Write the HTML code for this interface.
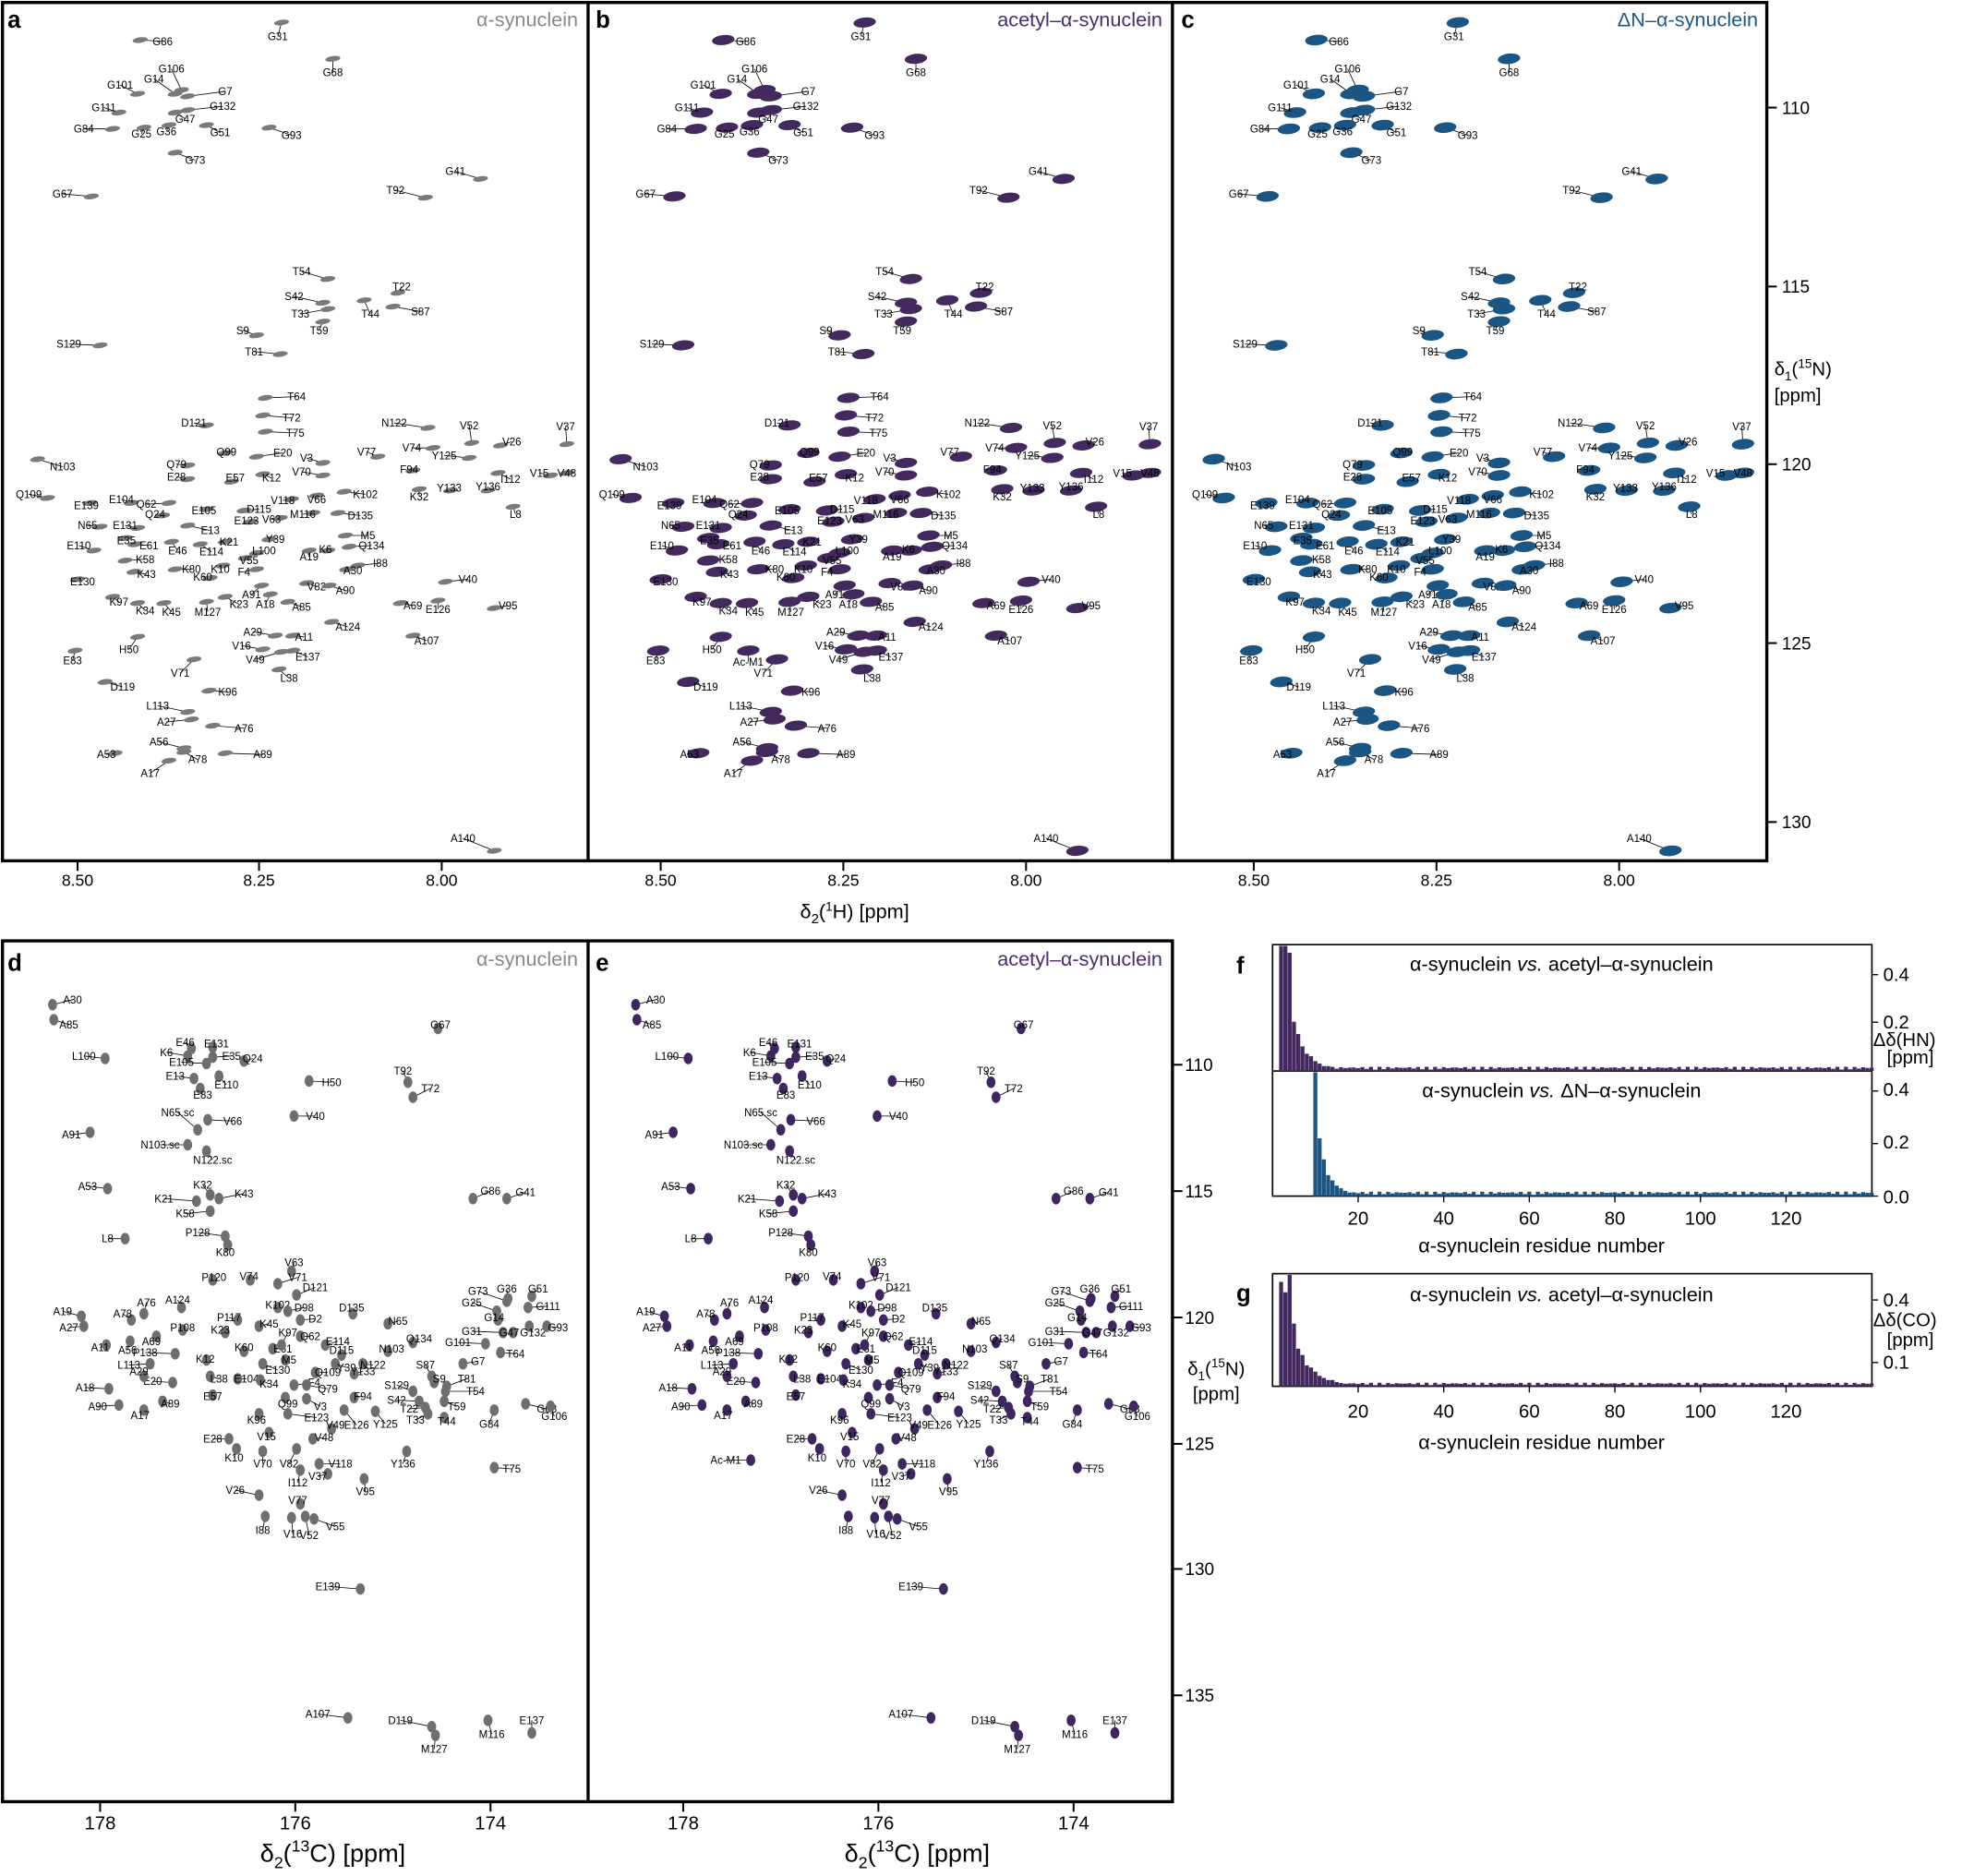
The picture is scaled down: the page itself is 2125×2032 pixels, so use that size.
<!DOCTYPE html>
<html><head><meta charset="utf-8">
<style>
html,body{margin:0;padding:0;background:#fff;}
svg{display:block;font-family:"Liberation Sans",sans-serif;}
</style></head>
<body>
<svg id="s" width="2125" height="2032" viewBox="0 0 1568 1499.4" preserveAspectRatio="none" xmlns="http://www.w3.org/2000/svg">
<rect x="0" y="0" width="1568" height="1500" fill="#fff"/>
<g id="peaks"></g>
<g fill="none" stroke="#000" stroke-width="2.5">
<rect x="2" y="2" width="1410" height="686"/>
<line x1="470" y1="2" x2="470" y2="688"/>
<line x1="937" y1="2" x2="937" y2="688"/>
<rect x="2" y="752" width="935" height="688"/>
<line x1="470" y1="752" x2="470" y2="1440"/>
</g>
<g fill="none" stroke="#000" stroke-width="1.2">
<rect x="1017" y="755" width="479" height="201"/>
<line x1="1017" y1="856" x2="1496" y2="856"/>
<rect x="1017" y="1018" width="479" height="90"/>
</g>
<g id="axes" stroke="#000" stroke-width="1.5"></g>
<g font-size="13" text-anchor="middle" fill="#000">
<text x="62" y="708">8.50</text><text x="207" y="708">8.25</text><text x="353" y="708">8.00</text>
<text x="528" y="708">8.50</text><text x="674" y="708">8.25</text><text x="820" y="708">8.00</text>
<text x="1002" y="708">8.50</text><text x="1148" y="708">8.25</text><text x="1294" y="708">8.00</text>
<text x="80" y="1462" font-size="15">178</text><text x="236" y="1462" font-size="15">176</text><text x="392" y="1462" font-size="15">174</text>
<text x="546" y="1462" font-size="15">178</text><text x="702" y="1462" font-size="15">176</text><text x="858" y="1462" font-size="15">174</text>
</g>
<g font-size="14" text-anchor="start">
<text x="1424" y="91">110</text><text x="1424" y="234">115</text><text x="1424" y="376">120</text><text x="1424" y="519">125</text><text x="1424" y="662">130</text>
<text x="947" y="856">110</text><text x="947" y="957">115</text><text x="947" y="1058">120</text><text x="947" y="1159">125</text><text x="947" y="1259">130</text><text x="947" y="1360">135</text>
</g>
<text x="683" y="734" font-size="16" text-anchor="middle">δ<tspan font-size="11" dy="4">2</tspan><tspan dy="-4">(</tspan><tspan font-size="10" dy="-6">1</tspan><tspan dy="6">H) [ppm]</tspan></text>
<text x="266" y="1488" font-size="20" text-anchor="middle">δ<tspan font-size="13" dy="5">2</tspan><tspan dy="-5">(</tspan><tspan font-size="13" dy="-8">13</tspan><tspan dy="8">C) [ppm]</tspan></text>
<text x="733" y="1488" font-size="20" text-anchor="middle">δ<tspan font-size="13" dy="5">2</tspan><tspan dy="-5">(</tspan><tspan font-size="13" dy="-8">13</tspan><tspan dy="8">C) [ppm]</tspan></text>
<text x="1418" y="300" font-size="15">δ<tspan font-size="10" dy="4">1</tspan><tspan dy="-4">(</tspan><tspan font-size="10" dy="-6">15</tspan><tspan dy="6">N)</tspan></text>
<text x="1418" y="321" font-size="15">[ppm]</text>
<text x="972" y="1099" font-size="15" text-anchor="middle">δ<tspan font-size="10" dy="4">1</tspan><tspan dy="-4">(</tspan><tspan font-size="10" dy="-6">15</tspan><tspan dy="6">N)</tspan></text>
<text x="972" y="1119" font-size="15" text-anchor="middle">[ppm]</text>
<g font-size="19" font-weight="bold">
<text x="6" y="22">a</text><text x="476" y="22">b</text><text x="944" y="22">c</text>
<text x="6" y="776">d</text><text x="476" y="776">e</text><text x="988" y="778">f</text><text x="988" y="1040">g</text>
</g>
<g font-size="16" text-anchor="end">
<text x="462" y="21" fill="#888">α-synuclein</text>
<text x="929" y="21" fill="#4a2c6e">acetyl–α-synuclein</text>
<text x="1405" y="21" fill="#1d5a8a">ΔN–α-synuclein</text>
<text x="462" y="772" fill="#888">α-synuclein</text>
<text x="929" y="772" fill="#4a2c6e">acetyl–α-synuclein</text>
</g>
<g font-size="16" text-anchor="middle">
<text x="1248" y="776">α-synuclein <tspan font-style="italic">vs.</tspan> acetyl–α-synuclein</text>
<text x="1248" y="877">α-synuclein <tspan font-style="italic">vs.</tspan> ΔN–α-synuclein</text>
<text x="1248" y="1040">α-synuclein <tspan font-style="italic">vs.</tspan> acetyl–α-synuclein</text>
<text x="1232" y="1001">α-synuclein residue number</text>
<text x="1232" y="1158">α-synuclein residue number</text>
</g>
<g font-size="15">
<text x="1505" y="784">0.4</text><text x="1505" y="822">0.2</text>
<text x="1497" y="836">Δδ(HN)</text><text x="1508" y="850">[ppm]</text>
<text x="1505" y="876">0.4</text><text x="1505" y="918">0.2</text><text x="1505" y="962">0.0</text>
<text x="1505" y="1044">0.4</text><text x="1497" y="1060">Δδ(CO)</text><text x="1508" y="1076">[ppm]</text><text x="1505" y="1094">0.1</text>
</g>
<g id="bars"></g>
<g id="bticks" font-size="15" text-anchor="middle"></g>
</svg>
<script>
const NS="http://www.w3.org/2000/svg";
function el(p,t,a,txt){const e=document.createElementNS(NS,t);for(const k in a)e.setAttribute(k,a[k]);if(txt!==undefined)e.textContent=txt;p.appendChild(e);return e;}
const P=document.getElementById('peaks'),A=document.getElementById('axes');
[62,207,353,528,674,820,1002,1148,1294].forEach(x=>el(A,'line',{x1:x,y1:688,x2:x,y2:696}));
[80,236,392,546,702,858].forEach(x=>el(A,'line',{x1:x,y1:1440,x2:x,y2:1448}));
[86,229,371,514,657].forEach(y=>el(A,'line',{x1:1412,y1:y,x2:1420,y2:y}));
[851,952,1053,1154,1254,1355].forEach(y=>el(A,'line',{x1:937,y1:y,x2:945,y2:y}));
const HN=`G31 225 18 222 32|G86 112 32 130 36|G68 266 47 266 61|G106 145 72 137 58|G14 140 75 123 66|G101 110 75 96 71|G7 150 77 180 76|G111 95 90 83 89|G132 150 88 178 88|G47 140 90 148 98|G84 90 103 67 106|G25 115 102 113 110|G36 135 100 133 108|G51 165 100 176 109|G93 215 102 233 111|G73 140 122 156 131|G67 73 157 50 158|G41 384 143 364 140|T92 340 158 316 155|T54 262 223 241 220|T22 318 234 321 232|S42 258 242 235 240|T44 291 240 296 254|S87 314 245 336 252|T33 262 247 240 254|S9 205 268 194 267|T59 258 257 255 267|S129 80 276 55 278|T81 224 283 203 284|T64 212 318 237 320|D121 165 340 155 341|T72 210 332 233 337|N122 342 342 315 341|T75 212 345 236 349|V52 377 354 375 343|V37 453 355 452 344|V26 400 356 409 356|Q99 180 362 181 364|E20 205 365 226 365|V74 346 358 329 361|V77 302 365 293 364|Y125 375 366 355 367|V3 258 370 245 369|K12 210 379 217 385|Q79 150 372 141 374|E28 150 383 141 384|E57 185 385 188 385|V70 258 380 241 380|F94 330 376 327 378|I112 398 378 408 386|V15 440 380 431 381|V48 453 378 453 381|N103 30 367 50 376|Q109 38 398 23 398|E139 72 402 69 407|E104 105 402 97 402|Q62 135 402 117 406|E105 165 407 163 411|D115 195 408 207 410|V66 253 396 253 402|K32 335 391 335 400|Y133 360 392 359 393|Y136 390 392 390 392|L8 410 405 412 414|K102 275 393 292 398|D135 270 410 288 415|Q24 130 412 124 414|E131 110 422 100 423|N65 80 421 70 423|E61 108 435 119 439|E46 137 433 142 443|E114 160 435 169 444|E35 100 430 101 435|E13 150 420 168 427|E123 200 417 197 419|V63 224 414 217 418|V118 233 399 226 403|M116 250 410 242 414|M5 276 428 294 431|Y39 215 431 220 434|K21 180 433 183 436|L100 205 442 211 443|A19 247 440 247 448|K6 262 440 260 442|Q134 279 437 297 439|I88 286 452 304 453|E110 75 440 63 439|K58 100 448 116 450|K43 107 457 117 462|K80 140 455 153 458|K60 168 462 162 464|K10 178 452 176 458|V55 196 446 199 451|F4 205 455 195 460|A30 277 455 282 459|E130 62 463 66 468|V82 245 466 253 472|A90 263 468 276 475|V40 356 465 374 466|A91 209 468 201 478|A18 216 475 212 486|K23 180 477 191 486|M127 165 481 166 492|K45 131 482 137 492|K34 110 482 116 491|K97 90 477 95 484|A85 230 481 241 488|A69 320 482 330 487|E126 350 480 350 490|V95 395 486 406 487|A124 265 497 278 504|A11 234 508 243 512|A29 220 508 202 508|V16 210 519 193 519|V49 225 521 204 530|E137 234 520 246 528|A107 330 508 341 515|H50 110 509 103 522|E83 60 520 58 531|L38 223 535 231 545|V71 155 527 144 541|D119 84 545 98 552|K96 167 552 182 556|L113 150 569 126 567|A27 153 575 133 580|A76 170 580 195 585|A56 147 598 127 596|A53 92 602 85 606|A78 147 601 158 610|A89 180 602 210 606|A17 135 608 120 621|A140 395 680 370 673`;
const CN=`A30 42 803 58 802|A85 43 815 55 822|L100 84 846 67 847|K6 150 844 133 844|E46 153 838 148 836|E131 170 837 173 837|E105 165 850 145 852|E35 170 845 185 847|Q24 195 848 202 849|E13 155 862 140 863|E83 160 870 162 878|E110 175 860 181 870|H50 247 864 265 868|G67 350 822 352 822|T92 326 865 322 859|T72 330 877 344 873|V40 235 892 252 895|A91 72 905 57 910|N65.sc 158 903 142 892|V66 166 895 186 899|N103.sc 150 915 128 918|N122.sc 165 920 170 930|A53 86 950 70 951|K32 168 955 162 950|K21 157 960 131 961|K43 175 958 195 957|K58 168 968 148 973|G86 378 958 392 955|G41 405 958 420 956|L8 100 990 86 993|P128 180 988 158 988|K80 182 995 180 1004|V63 233 1016 235 1012|P120 170 1023 171 1024|V74 200 1023 199 1023|V71 222 1026 238 1024|D121 237 1035 252 1032|A124 145 1045 142 1042|A76 115 1050 117 1044|A78 105 1055 98 1053|A19 65 1052 50 1051|A27 67 1060 55 1064|A11 85 1075 80 1080|A56 104 1072 102 1082|A69 125 1068 121 1075|G73 405 1040 382 1035|G36 406 1038 405 1033|G51 425 1036 430 1033|G25 397 1048 377 1044|G14 398 1055 395 1056|G111 422 1045 438 1047|G31 402 1065 377 1067|G47 410 1065 407 1068|G132 423 1060 426 1068|G93 437 1060 446 1064|G101 388 1074 366 1076|G7 370 1090 382 1091|T64 400 1081 412 1085|K102 222 1045 222 1046|D98 230 1048 243 1048|P117 190 1055 183 1056|K45 207 1060 215 1061|D2 240 1055 252 1057|D135 282 1050 281 1048|N65 310 1058 318 1059|K23 180 1065 176 1066|Q62 240 1068 248 1071|E61 218 1078 226 1081|P108 146 1063 146 1064|K97 225 1075 230 1068|K60 195 1080 195 1080|E114 260 1075 270 1075|D115 273 1083 273 1082|N122 290 1090 298 1094|N103 310 1080 313 1081|Q134 330 1073 335 1073|P138 140 1082 116 1084|L113 120 1090 103 1094|K12 165 1087 164 1089|E130 210 1090 222 1098|M5 228 1087 231 1090|Y39 268 1090 277 1096|Q109 252 1097 262 1100|Y133 283 1098 290 1099|E20 138 1105 122 1107|L38 168 1100 175 1105|E104 190 1102 197 1105|K34 208 1103 215 1109|F4 235 1107 251 1108|Q79 245 1107 262 1113|E57 170 1115 170 1119|F94 283 1117 290 1119|S87 345 1100 340 1094|S129 330 1112 317 1110|S9 347 1105 351 1105|T81 357 1108 373 1105|A18 87 1110 68 1112|A29 115 1100 111 1099|A90 95 1123 78 1127|A17 115 1127 112 1134|A89 130 1120 136 1125|Q99 228 1117 230 1125|V3 245 1118 256 1127|S42 335 1120 317 1122|T22 340 1125 327 1129|T59 355 1120 365 1127|T54 356 1112 380 1115|T33 342 1130 332 1138|T44 355 1133 357 1139|G84 395 1127 391 1141|G68 420 1122 437 1129|G106 440 1124 443 1135|E126 275 1127 285 1142|Y125 300 1128 308 1141|E123 230 1130 253 1136|K96 207 1130 205 1138|V49 265 1142 268 1142|V48 250 1150 259 1152|E28 183 1150 170 1153|V15 215 1145 213 1151|K10 189 1158 187 1168|V70 210 1160 210 1173|V82 237 1158 231 1173|V118 255 1170 272 1173|Y136 325 1160 322 1173|I112 240 1175 238 1188|V37 262 1178 254 1183|V95 291 1182 292 1195|V26 207 1195 188 1194|T75 395 1173 409 1177|V77 240 1202 238 1202|I88 212 1212 210 1226|V16 233 1213 234 1229|V52 244 1212 247 1230|V55 251 1214 268 1223|E139 288 1270 262 1271|A107 278 1373 254 1373|D119 345 1380 320 1378|M127 348 1387 347 1401|M116 390 1375 393 1389|E137 425 1385 425 1378`;
function draw(data,dx,color,rx,ry,rot,extra){
  const list=data.split('|').map(s=>s.split(' '));
  if(extra)list.push(extra);
  list.forEach(r=>{
    const px=+r[1]+dx,py=+r[2],lx=+r[3]+dx,ly=+r[4];
    el(P,'line',{x1:px,y1:py,x2:lx,y2:ly-3,stroke:'#000','stroke-width':0.6});
    el(P,'ellipse',{cx:px,cy:py,rx:rx,ry:ry,fill:color,transform:`rotate(${rot} ${px} ${py})`});
    el(P,'text',{x:lx,y:ly,'font-size':8.5,'text-anchor':'middle',fill:'#000'},r[0]);
  });
}
draw(HN,0,'#7a7a7a',6,2.2,-8);
draw(HN,466,'#44295f',9,4,-6,['Ac-M1','132','520','132','532']);
draw(HN,940,'#1a5583',9,4.2,-6);
draw(CN,0,'#6e6e6e',3.6,4.6,0);
draw(CN,466,'#3f2660',3.6,4.6,0,['Ac-M1','134','1167','114','1170']);
const B=document.getElementById('bars'),T=document.getElementById('bticks');
const rx=r=>1017+r*3.42;
function bars(vals,y0,scale,top,color){
  for(let r=1;r<=140;r++){
    let v=vals[r]!==undefined?vals[r]:(0.005+0.012*Math.abs(Math.sin(r*1.7)));
    let h=Math.min(v*scale,y0-top);
    el(B,'rect',{x:rx(r)-1.6,y:y0-h,width:3.2,height:h,fill:color});
  }
}
bars({1:0,2:0.6,3:0.6,4:0.48,5:0.2,6:0.15,7:0.1,8:0.07,9:0.06,10:0.04,11:0.03,12:0.02,13:0.02},856,197,756,'#44295f');
let bl={};for(let r=1;r<10;r++)bl[r]=0;Object.assign(bl,{10:0.6,11:0.22,12:0.14,13:0.08,14:0.06,15:0.04,16:0.03,17:0.02});
bars(bl,956,210,857,'#1a5583');
bars({1:0,2:0.5,3:0.45,4:0.6,5:0.3,6:0.18,7:0.15,8:0.1,9:0.09,10:0.07,11:0.05,12:0.04,13:0.03,14:0.03,15:0.02},1108,167,1019,'#44295f');
[20,40,60,80,100,120].forEach(v=>{
  const x=rx(v);
  el(T,'line',{x1:x,y1:956,x2:x,y2:961,stroke:'#000'});
  el(T,'text',{x:x,y:979},v);
  el(T,'line',{x1:x,y1:1108,x2:x,y2:1113,stroke:'#000'});
  el(T,'text',{x:x,y:1133},v);
});
[779,817,872,914,956,1039,1089].forEach(y=>el(T,'line',{x1:1496,y1:y,x2:1501,y2:y,stroke:'#000'}));
</script>
</body></html>
